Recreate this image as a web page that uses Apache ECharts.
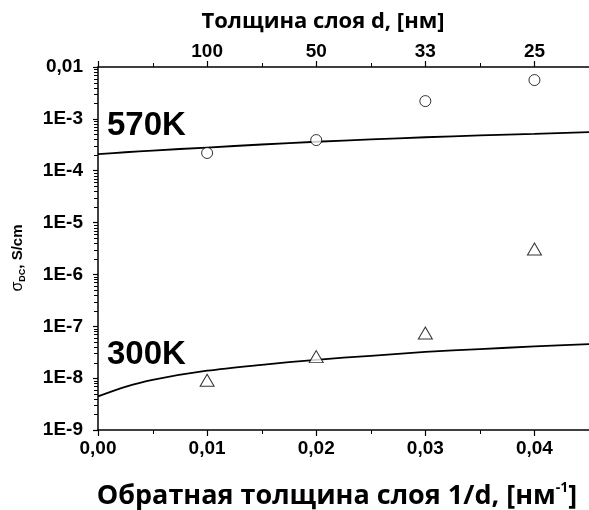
<!DOCTYPE html>
<html>
<head>
<meta charset="utf-8">
<script src="https://cdn.jsdelivr.net/npm/echarts@6/dist/echarts.min.js"></script>
<style>
  html, body { margin: 0; padding: 0; background: #fff; }
  #chart { width: 589px; height: 510px; }
</style>
</head>
<body>
<div id="chart"></div>
<script>
// Measured conductivity vs. inverse layer thickness
const inverseThickness = [0.01, 0.02, 0.03, 0.04];
const thicknessLabels = ['100', '50', '33', '25'];
const sigma570 = [2.2e-4, 3.9e-4, 2.2e-3, 5.6e-3];
const sigma300 = [9.1e-9, 2.6e-8, 7.4e-8, 3.1e-6];

// Fitted curves
const fitX = [0, 0.0025, 0.005, 0.01, 0.015, 0.02, 0.025, 0.03, 0.035, 0.04, 0.045];
const fit570 = [2.08e-4, 2.27e-4, 2.45e-4, 2.8e-4, 3.2e-4, 3.62e-4, 4.02e-4, 4.42e-4, 4.8e-4, 5.15e-4, 5.55e-4];
const fit300 = [4.45e-9, 6.8e-9, 9.3e-9, 1.39e-8, 1.81e-8, 2.26e-8, 2.7e-8, 3.2e-8, 3.63e-8, 4.08e-8, 4.54e-8];

// Axis settings
const xMin = 0, xMax = 0.045, xStep = 0.01;
const yMin = 1e-9, yMax = 1e-2;

const tickFont = 'Liberation Sans';
const titleFont = 'Open Sans';

const chart = echarts.init(document.getElementById('chart'), null, { renderer: 'canvas' });

const axisLineStyle = { color: '#000', width: 1.5 };
const tickStyle = { color: '#000', width: 1.2 };

chart.setOption({
  animation: false,
  backgroundColor: '#fff',
  grid: { left: 98, top: 67, width: 492, height: 363, containLabel: false },
  xAxis: [
    {
      type: 'value', position: 'bottom', min: xMin, max: xMax, interval: xStep,
      axisLine: { show: true, lineStyle: axisLineStyle },
      axisTick: { show: true, inside: false, length: 6, lineStyle: tickStyle },
      splitLine: { show: false },
      axisLabel: {
        margin: 9, color: '#000', fontFamily: tickFont, fontWeight: 'bold', fontSize: 19,
        showMaxLabel: false,
        formatter: v => (Math.abs(v / xStep - Math.round(v / xStep)) < 1e-6 ? v.toFixed(2).replace('.', ',') : '')
      }
    },
    {
      type: 'value', position: 'top', min: xMin, max: xMax, interval: xStep,
      axisLine: { show: true, lineStyle: axisLineStyle },
      axisTick: { show: true, inside: false, length: 6, lineStyle: tickStyle },
      splitLine: { show: false },
      axisLabel: {
        margin: 6, color: '#000', fontFamily: tickFont, fontWeight: 'bold', fontSize: 19,
        showMaxLabel: false,
        formatter: v => {
          const i = inverseThickness.findIndex(t => Math.abs(t - v) < 1e-6);
          return i >= 0 ? thicknessLabels[i] : '';
        }
      }
    }
  ],
  yAxis: {
    type: 'log', logBase: 10, min: yMin, max: yMax, interval: 1, splitNumber: 7,
    axisLine: { show: true, lineStyle: axisLineStyle },
    axisTick: { show: true, inside: false, length: 5, lineStyle: tickStyle },
    splitLine: { show: false },
    axisLabel: {
      margin: 15, color: '#000', fontFamily: tickFont, fontWeight: 'bold', fontSize: 19,
      formatter: v => {
        const e = Math.round(Math.log10(v));
        return e === -2 ? '0,01' : '1E' + e;
      }
    }
  },
  series: [
    {
      name: '570K fit', type: 'line', xAxisIndex: 0, smooth: 0.3, showSymbol: false,
      data: fitX.map((x, i) => [x, fit570[i]]),
      lineStyle: { color: '#000', width: 1.8 }, z: 2
    },
    {
      name: '300K fit', type: 'line', xAxisIndex: 0, smooth: 0.3, showSymbol: false,
      data: fitX.map((x, i) => [x, fit300[i]]),
      lineStyle: { color: '#000', width: 1.8 }, z: 2
    },
    {
      name: '570K', type: 'scatter', xAxisIndex: 0, symbol: 'circle', symbolSize: 11,
      data: inverseThickness.map((x, i) => [x, sigma570[i]]),
      itemStyle: { color: '#fff', borderColor: '#000', borderWidth: 1 }, z: 3
    },
    {
      name: '300K', type: 'scatter', xAxisIndex: 0, symbol: 'triangle', symbolSize: [14, 12],
      data: inverseThickness.map((x, i) => [x, sigma300[i]]),
      itemStyle: { color: '#fff', borderColor: '#000', borderWidth: 1 }, z: 3
    }
  ]
});

// Minor tick marks, placed through the axes' own scales (snapped to whole pixels)
const toPx = (x, y) => chart.convertToPixel({ xAxisIndex: 0, yAxisIndex: 0 }, [x, y]);
const snap = v => Math.round(v) + 0.5;
const tickLine = (x1, y1, x2, y2) => ({
  type: 'line', silent: true, z: 100, zlevel: 0,
  shape: { x1, y1, x2, y2 },
  style: { stroke: '#000', lineWidth: 1, fill: null }
});
const minorTicks = [];
for (let i = 0; i < 4; i++) {
  const x = 0.005 + i * xStep;
  const b = toPx(x, yMin), t = toPx(x, yMax);
  const px = snap(b[0]);
  minorTicks.push(tickLine(px, b[1], px, b[1] + 4));
  minorTicks.push(tickLine(px, t[1], px, t[1] - 4));
}
for (let n = -9; n < -2; n++) {
  for (let k = 2; k <= 9; k++) {
    const p = toPx(xMin, k * Math.pow(10, n));
    const py = snap(p[1]);
    minorTicks.push(tickLine(p[0] - 4, py, p[0], py));
  }
}

chart.setOption({
  graphic: [
    {
      type: 'text', x: 323, y: 22,
      style: { text: 'Толщина слоя d, [нм]', fontFamily: titleFont, fontWeight: 'bold', fontSize: 22,
        fill: '#000', align: 'center', verticalAlign: 'middle' }
    },
    {
      type: 'text', x: 337, y: 496,
      style: {
        text: '{t|Обратная толщина слоя 1/d, [нм}{s|-1}{t|]}',
        align: 'center', verticalAlign: 'middle',
        rich: {
          t: { fontFamily: titleFont, fontWeight: 'bold', fontSize: 27, fill: '#000' },
          s: { fontFamily: titleFont, fontWeight: 'bold', fontSize: 14, fill: '#000', padding: [0, 0, 15, 0] }
        }
      }
    },
    {
      type: 'text', x: 18, y: 258, rotation: Math.PI / 2,
      style: {
        text: '{g|σ}{d|DC}{b|, S/cm}',
        align: 'center', verticalAlign: 'middle',
        rich: {
          g: { fontFamily: tickFont, fontSize: 16, fill: '#000' },
          d: { fontFamily: tickFont, fontWeight: 'bold', fontSize: 9, fill: '#000', padding: [9, 0, 0, 0] },
          b: { fontFamily: tickFont, fontWeight: 'bold', fontSize: 15, fill: '#000' }
        }
      }
    },
    {
      type: 'text', x: 107, y: 126,
      style: { text: '570K', fontFamily: tickFont, fontWeight: 'bold', fontSize: 33, fill: '#000',
        align: 'left', verticalAlign: 'middle' }
    },
    {
      type: 'text', x: 107, y: 355,
      style: { text: '300K', fontFamily: tickFont, fontWeight: 'bold', fontSize: 33, fill: '#000',
        align: 'left', verticalAlign: 'middle' }
    }
  ].concat(minorTicks)
});
</script>
</body>
</html>
